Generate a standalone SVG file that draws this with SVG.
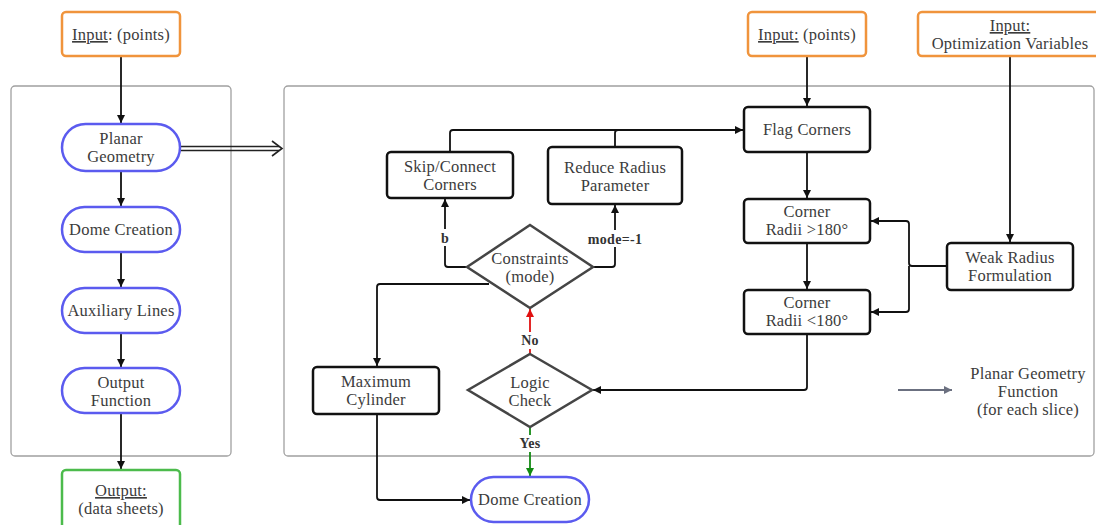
<svg xmlns="http://www.w3.org/2000/svg" width="1096" height="525" viewBox="0 0 1096 525">
<style>
text{font-family:"Liberation Serif","DejaVu Serif",serif;font-size:16.5px;letter-spacing:0.2px;fill:#3c3c3c;text-anchor:middle}
.lbl{font-size:14px;font-weight:bold;fill:#333;letter-spacing:0.3px}
.panel{fill:none;stroke:#a0a0a0;stroke-width:1.3}
.inp{fill:#fff;stroke:#f0943c;stroke-width:2.5}
.out{fill:#fff;stroke:#4cbb4c;stroke-width:2.5}
.stad{fill:#fff;stroke:#5b5bef;stroke-width:2.5}
.box{fill:#fff;stroke:#111;stroke-width:2.5}
.dia{fill:#fff;stroke:#454545;stroke-width:2.5}
.c{fill:none;stroke:#111;stroke-width:1.8}
</style>
<defs>
<marker id="ah" viewBox="0 0 10 10" refX="10" refY="5" markerWidth="8" markerHeight="8" markerUnits="userSpaceOnUse" orient="auto"><path d="M0,0 L10,5 L0,10 z" fill="#111"/></marker>
<marker id="ahr" viewBox="0 0 10 10" refX="10" refY="5" markerWidth="8" markerHeight="8" markerUnits="userSpaceOnUse" orient="auto"><path d="M0,0 L10,5 L0,10 z" fill="#e01010"/></marker>
<marker id="ahg" viewBox="0 0 10 10" refX="10" refY="5" markerWidth="8" markerHeight="8" markerUnits="userSpaceOnUse" orient="auto"><path d="M0,0 L10,5 L0,10 z" fill="#128a12"/></marker>
<marker id="ahgy" viewBox="0 0 10 10" refX="10" refY="5" markerWidth="8" markerHeight="8" markerUnits="userSpaceOnUse" orient="auto"><path d="M0,0 L10,5 L0,10 z" fill="#6b7080"/></marker>
</defs>
<rect width="1096" height="525" fill="#fff"/>
<g id="panels">
<rect class="panel" x="11" y="86" width="220" height="370" rx="4"/>
<rect class="panel" x="284" y="86" width="810" height="370" rx="4"/>
</g>
<g id="connectors">
<path class="c" d="M121,56 V123" marker-end="url(#ah)"/>
<path class="c" d="M121,171 V206" marker-end="url(#ah)"/>
<path class="c" d="M121,252 V287" marker-end="url(#ah)"/>
<path class="c" d="M121,333 V367" marker-end="url(#ah)"/>
<path class="c" d="M121,413 V469" marker-end="url(#ah)"/>
<path d="M181,146.5 H279 M181,150.5 H279" fill="none" stroke="#222" stroke-width="1.4"/>
<path d="M272,141 L282,148.5 L272,156" fill="none" stroke="#222" stroke-width="1.6"/>
<path class="c" d="M807,56 V106" marker-end="url(#ah)"/>
<path class="c" d="M807,152 V198" marker-end="url(#ah)"/>
<path class="c" d="M807,243 V289" marker-end="url(#ah)"/>
<path class="c" d="M450,152 V133 Q450,130 453,130 H743" marker-end="url(#ah)"/>
<path class="c" d="M615,147 V133 Q615,130 618,130"/>
<path class="c" d="M467,267 H448 Q445,267 445,264 V199" marker-end="url(#ah)"/>
<path class="c" d="M593,267 H612 Q615,267 615,264 V205" marker-end="url(#ah)"/>
<path class="c" d="M489,284 H380 Q377,284 377,287 V366" marker-end="url(#ah)"/>
<path class="c" d="M377,414 V497 Q377,500 380,500 H470" marker-end="url(#ah)"/>
<path class="c" d="M807,334 V387 Q807,390 804,390 H593" marker-end="url(#ah)"/>
<path class="c" d="M1010,56 V242" marker-end="url(#ah)"/>
<path class="c" d="M947,266 H912 Q909,266 909,263 V224 Q909,221 906,221 H871" marker-end="url(#ah)"/>
<path class="c" d="M909,266 V309 Q909,312 906,312 H871" marker-end="url(#ah)"/>
<path d="M530,354 V309" fill="none" stroke="#e01010" stroke-width="1.8" marker-end="url(#ahr)"/>
<path d="M530,427 V476" fill="none" stroke="#128a12" stroke-width="1.8" marker-end="url(#ahg)"/>
<path d="M898,390 H952" fill="none" stroke="#6b7080" stroke-width="1.8" marker-end="url(#ahgy)"/>
<rect x="439" y="229" width="12" height="17" fill="#fff"/>
<rect x="584" y="230" width="62" height="17" fill="#fff"/>
<rect x="516" y="332" width="28" height="17" fill="#fff"/>
<rect x="514" y="435" width="32" height="17" fill="#fff"/>
<text class="lbl" x="445" y="243">b</text>
<text class="lbl" x="615" y="244">mode=-1</text>
<text class="lbl" x="530" y="345">No</text>
<text class="lbl" x="530" y="448">Yes</text>
</g>
<g id="input-left"><rect class="inp" x="62" y="12" width="118" height="44" rx="4"/><text x="121" y="40"><tspan text-decoration="underline">Input</tspan>: (points)</text></g>
<g id="planar-geometry"><rect class="stad" x="62" y="124" width="118" height="47" rx="23.5"/><text x="121" y="144">Planar</text><text x="121" y="162">Geometry</text></g>
<g id="dome-creation-left"><rect class="stad" x="62" y="207" width="118" height="45" rx="22.5"/><text x="121" y="235">Dome Creation</text></g>
<g id="auxiliary-lines"><rect class="stad" x="62" y="288" width="118" height="45" rx="22.5"/><text x="121" y="316">Auxiliary Lines</text></g>
<g id="output-function"><rect class="stad" x="62" y="368" width="118" height="45" rx="22.5"/><text x="121" y="388">Output</text><text x="121" y="406">Function</text></g>
<g id="output"><rect class="out" x="62" y="470" width="118" height="60" rx="4"/><text x="121" y="496" text-decoration="underline">Output:</text><text x="121" y="514">(data sheets)</text></g>
<g id="input-right"><rect class="inp" x="748" y="12" width="118" height="44" rx="4"/><text x="807" y="40"><tspan text-decoration="underline">Input:</tspan> (points)</text></g>
<g id="input-opt"><rect class="inp" x="918" y="12" width="190" height="44" rx="4"/><text x="1010" y="31" text-decoration="underline">Input:</text><text x="1010" y="49">Optimization Variables</text></g>
<g id="flag-corners"><rect class="box" x="744" y="107" width="126" height="45" rx="4"/><text x="807" y="135">Flag Corners</text></g>
<g id="corner-radii-gt"><rect class="box" x="744" y="199" width="126" height="44" rx="4"/><text x="807" y="217">Corner</text><text x="807" y="235">Radii &gt;180°</text></g>
<g id="corner-radii-lt"><rect class="box" x="744" y="290" width="126" height="44" rx="4"/><text x="807" y="308">Corner</text><text x="807" y="326">Radii &lt;180°</text></g>
<g id="weak-radius"><rect class="box" x="947" y="243" width="126" height="47" rx="4"/><text x="1010" y="263">Weak Radius</text><text x="1010" y="281">Formulation</text></g>
<g id="skip-connect"><rect class="box" x="387" y="152" width="126" height="46" rx="4"/><text x="450" y="172">Skip/Connect</text><text x="450" y="190">Corners</text></g>
<g id="reduce-radius"><rect class="box" x="548" y="147" width="134" height="57" rx="4"/><text x="615" y="173">Reduce Radius</text><text x="615" y="191">Parameter</text></g>
<g id="constraints"><path class="dia" d="M530,225 L593,267 L530,308 L467,267 Z"/><text x="530" y="264">Constraints</text><text x="530" y="282">(mode)</text></g>
<g id="logic-check"><path class="dia" d="M530,354 L592,390 L530,427 L468,390 Z"/><text x="530" y="388">Logic</text><text x="530" y="406">Check</text></g>
<g id="maximum-cylinder"><rect class="box" x="313" y="367" width="126" height="47" rx="4"/><text x="376" y="387">Maximum</text><text x="376" y="405">Cylinder</text></g>
<g id="dome-creation"><rect class="stad" x="471" y="477" width="118" height="45" rx="22.5"/><text x="530" y="505">Dome Creation</text></g>
<g id="legend"><text x="1028" y="379">Planar Geometry</text><text x="1028" y="397">Function</text><text x="1028" y="415">(for each slice)</text></g>
</svg>
